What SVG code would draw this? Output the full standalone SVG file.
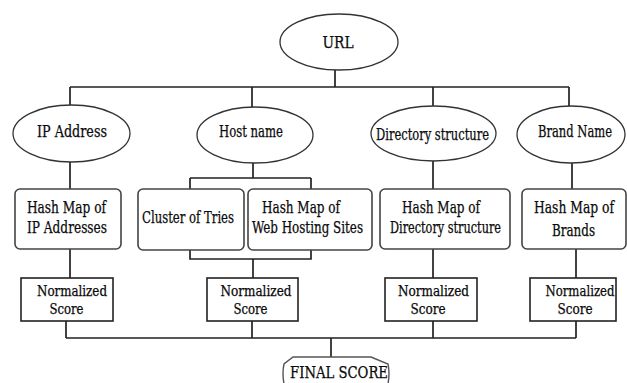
<svg xmlns="http://www.w3.org/2000/svg" width="627" height="383" viewBox="0 0 627 383">
<style>
.bg{fill:#ffffff}
.ell{fill:#ffffff;stroke:#333333;stroke-width:1.3}
.rbox{fill:#ffffff;stroke:#444444;stroke-width:1.6}
.sbox{fill:#ffffff;stroke:#222222;stroke-width:1.6}
.fin{fill:#ffffff;stroke:#555555;stroke-width:1.4}
.con{fill:none;stroke:#222222;stroke-width:1.7}
.t{font-family:'DejaVu Serif Condensed','DejaVu Serif',serif;font-stretch:condensed;fill:#0a0a0a;stroke:#0a0a0a;stroke-width:0.25;font-size:16px}
.sm{font-size:14px}
</style>
<rect class="bg" x="0" y="0" width="627" height="383"/>
<g id="connectors">
<path class="con" d="M335,70 V87 M70,87 H569 M70,87 V105 M252,87 V108 M433,87 V106 M569,87 V106"/>
<path class="con" d="M70,162 V189 M253,163 V178 M190,178 H311 M190,178 V189 M311,178 V189 M433,161 V189 M572,163 V189"/>
<path class="con" d="M70,249 V278 M190,250 V259 H311 V250 M253,259 V278 M433,249 V278 M576,249 V278"/>
<path class="con" d="M66,321 V338 M252,321 V338 M433,321 V338 M576,321 V338 M66,338 H576 M331,338 V357"/>
</g>
<g id="url">
<ellipse class="ell" cx="339" cy="42" rx="59" ry="28"/>
<text class="t" x="338" y="48" text-anchor="middle" textLength="31" lengthAdjust="spacingAndGlyphs">URL</text>
</g>
<g id="ip-address">
<ellipse class="ell" cx="71.5" cy="133.5" rx="58.5" ry="28.5"/>
<text class="t" x="72" y="137" text-anchor="middle" textLength="70" lengthAdjust="spacingAndGlyphs">IP Address</text>
</g>
<g id="host-name">
<ellipse class="ell" cx="255" cy="135" rx="58" ry="28"/>
<text class="t" x="251" y="137" text-anchor="middle" textLength="64" lengthAdjust="spacingAndGlyphs">Host name</text>
</g>
<g id="directory-structure">
<ellipse class="ell" cx="433.5" cy="133.5" rx="62.5" ry="27.5"/>
<text class="t" x="432.5" y="140" text-anchor="middle" textLength="113" lengthAdjust="spacingAndGlyphs">Directory structure</text>
</g>
<g id="brand-name">
<ellipse class="ell" cx="571" cy="134.5" rx="54" ry="28.5"/>
<text class="t" x="575" y="137" text-anchor="middle" font-size="15" textLength="74" lengthAdjust="spacingAndGlyphs">Brand Name</text>
</g>
<g id="hash-ip">
<rect class="rbox" x="15" y="189" width="106" height="60" rx="5"/>
<text class="t" x="66.5" y="213" text-anchor="middle" textLength="79" lengthAdjust="spacingAndGlyphs">Hash Map of</text>
<text class="t" x="67" y="233" text-anchor="middle" textLength="80" lengthAdjust="spacingAndGlyphs">IP Addresses</text>
</g>
<g id="cluster-tries">
<rect class="rbox" x="138" y="189" width="106" height="61" rx="5"/>
<text class="t" x="188" y="223" text-anchor="middle" textLength="92" lengthAdjust="spacingAndGlyphs">Cluster of Tries</text>
</g>
<g id="hash-web">
<rect class="rbox" x="248" y="189" width="124" height="61" rx="5"/>
<text class="t" x="301" y="213" text-anchor="middle" textLength="78" lengthAdjust="spacingAndGlyphs">Hash Map of</text>
<text class="t" x="307.5" y="233" text-anchor="middle" textLength="111" lengthAdjust="spacingAndGlyphs">Web Hosting Sites</text>
</g>
<g id="hash-directory">
<rect class="rbox" x="380" y="189" width="130" height="60" rx="5"/>
<text class="t" x="441" y="213" text-anchor="middle" textLength="78" lengthAdjust="spacingAndGlyphs">Hash Map of</text>
<text class="t" x="445.5" y="233" text-anchor="middle" textLength="111" lengthAdjust="spacingAndGlyphs">Directory structure</text>
</g>
<g id="hash-brands">
<rect class="rbox" x="522" y="189" width="104" height="60" rx="5"/>
<text class="t" x="574" y="213" text-anchor="middle" textLength="80" lengthAdjust="spacingAndGlyphs">Hash Map of</text>
<text class="t" x="573.5" y="236" text-anchor="middle" textLength="43" lengthAdjust="spacingAndGlyphs">Brands</text>
</g>
<g id="score-ip">
<rect class="sbox" x="21" y="278" width="92" height="43"/>
<text class="t sm" x="72" y="296" text-anchor="middle" textLength="70" lengthAdjust="spacingAndGlyphs">Normalized</text>
<text class="t sm" x="66.5" y="314" text-anchor="middle" textLength="34" lengthAdjust="spacingAndGlyphs">Score</text>
</g>
<g id="score-host">
<rect class="sbox" x="207" y="278" width="91" height="43"/>
<text class="t sm" x="256" y="296" text-anchor="middle" textLength="71" lengthAdjust="spacingAndGlyphs">Normalized</text>
<text class="t sm" x="250.5" y="314" text-anchor="middle" textLength="34" lengthAdjust="spacingAndGlyphs">Score</text>
</g>
<g id="score-directory">
<rect class="sbox" x="385" y="278" width="92" height="43"/>
<text class="t sm" x="433.5" y="296" text-anchor="middle" textLength="71" lengthAdjust="spacingAndGlyphs">Normalized</text>
<text class="t sm" x="428" y="314" text-anchor="middle" textLength="35" lengthAdjust="spacingAndGlyphs">Score</text>
</g>
<g id="score-brand">
<rect class="sbox" x="530" y="278" width="86" height="43"/>
<text class="t sm" x="580" y="296" text-anchor="middle" textLength="69" lengthAdjust="spacingAndGlyphs">Normalized</text>
<text class="t sm" x="575" y="314" text-anchor="middle" textLength="35" lengthAdjust="spacingAndGlyphs">Score</text>
</g>
<g id="final-score">
<path class="fin" d="M284,384 Q282,373 284,364 L293,357 L371,357 L388,364 Q390,373 388,384"/>
<text class="t" x="339" y="378" text-anchor="middle" textLength="98" lengthAdjust="spacingAndGlyphs">FINAL SCORE</text>
</g>
</svg>
